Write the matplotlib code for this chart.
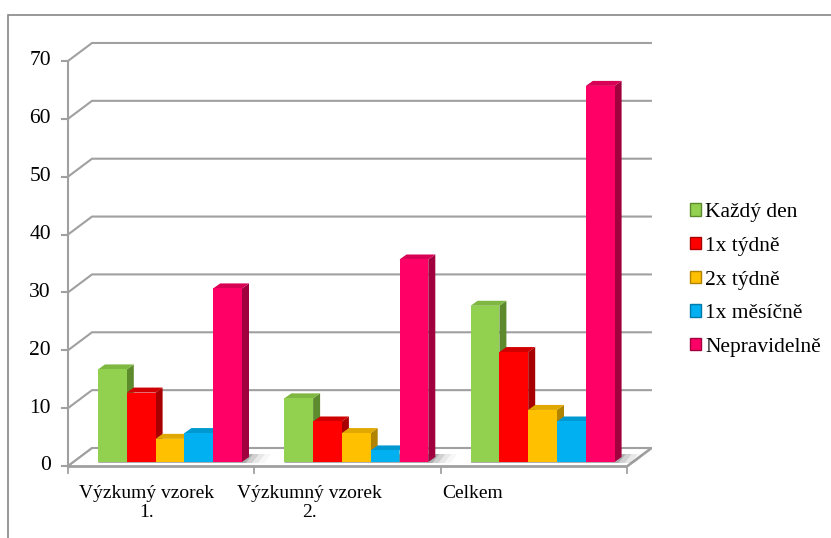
import matplotlib.pyplot as plt
from matplotlib.patches import Polygon, Rectangle, Patch

# data
categories = ["Výzkumý vzorek\n1.", "Výzkumný vzorek\n2.", "Celkem"]
series = ["Každý den", "1x týdně", "2x týdně", "1x měsíčně", "Nepravidelně"]
kazdy_den = [16, 11, 27]
tydne_1x = [12, 7, 19]
tydne_2x = [4, 5, 9]
mesicne_1x = [5, 2, 7]
nepravidelne = [30, 35, 65]
yticks = [0, 10, 20, 30, 40, 50, 60, 70]

values = [kazdy_den, tydne_1x, tydne_2x, mesicne_1x, nepravidelne]
front = ["#92D050", "#FF0000", "#FFC000", "#00B0F0", "#FF0066"]
top = ["#7FB840", "#D00000", "#E0A800", "#0098D0", "#D80055"]
side = ["#5E8A2E", "#A80000", "#B08400", "#0078A8", "#A0003E"]

plt.rcParams["font.family"] = ["Liberation Serif", "DejaVu Serif"]
FS_CAT, FS_TICK, FS_LEG = 14, 15.5, 15.5

# pixel geometry of the front plane -> data units
W, H = 831, 538
X0, CAT = 68, 186.3     # pixel of category 0, pixels per category
Y0, VAL = 466, 5.786    # pixel of value 0, pixels per value unit


def dx(p):
    return p / CAT


def dy(p):
    return p / VAL


DX, DY = dx(24), dy(18)          # depth of the wall
BDX, BDY = dx(7), dy(5)          # depth of a bar
B0X, B0Y = dx(5), dy(4)          # bar offset into the depth
GROUP_OFF, BAR_W = dx(25), dx(28.8)
SLAB = dy(1)
GRID = "#A0A0A0"

fig = plt.figure(figsize=(W / 100, H / 100), dpi=100)
ax = fig.add_axes([0, 0, 1, 1])
ax.set_xlim(-dx(X0), dx(W - X0))
ax.set_ylim(-dy(H - Y0), dy(Y0))
ax.axis("off")

# outer chart border
ax.add_patch(Rectangle((dx(8 - X0), -dy(H + 20 - Y0)), dx(W + 40), dy(Y0 - 15) + dy(H + 20 - Y0),
                       fill=False, ec="#868686", lw=1.2, zorder=0))

# floor
ax.add_patch(Polygon([(0, 0), (3, 0), (3 + DX, DY), (DX, DY)], closed=True,
                     fc="white", ec=GRID, lw=1.3, zorder=1))
ax.plot([0, 3, 3 + DX], [-SLAB, -SLAB, DY - SLAB], color=GRID, lw=1.3, zorder=1)

# gridlines on back wall + diagonals from the axis
for v in yticks:
    ax.plot([0, DX, 3 + DX], [v, v + DY, v + DY], color=GRID, lw=1.5, zorder=1)
    ax.plot([-dx(6), 0], [v, v], color=GRID, lw=1.5, zorder=1)
    ax.text(-dx(17), v, str(v), ha="right", va="center", fontsize=FS_TICK)
ax.plot([0, 0], [-SLAB, yticks[-1]], color=GRID, lw=1.5, zorder=1)

# category ticks and labels
for i in range(len(categories) + 1):
    ax.plot([i, i], [-SLAB, -SLAB - dy(6)], color=GRID, lw=1.3, zorder=1)
for i, cat in enumerate(categories):
    ax.text(0.42 + 0.877 * i, -dy(19), cat, ha="center", va="top", fontsize=FS_CAT,
            linespacing=1.12)

# soft shadows on the floor
for g in range(len(categories)):
    x0 = g + GROUP_OFF + B0X
    x1 = x0 + 5 * BAR_W
    for k, a in enumerate([0.16, 0.10, 0.06, 0.03]):
        ext = dx(4 + 6 * k)
        ax.add_patch(Polygon([(x0, B0Y - dy(1)), (x1 + ext, B0Y - dy(1)),
                              (x1 + BDX + ext, B0Y + BDY + dy(3)), (x0 + BDX, B0Y + BDY + dy(3))],
                             closed=True, fc="black", alpha=a, ec="none", zorder=2))

# 3d bars
z = 3
for g in range(len(categories)):
    for s in range(len(series)):
        v = values[s][g]
        x0 = g + GROUP_OFF + B0X + s * BAR_W
        x1 = x0 + BAR_W
        b, t = B0Y, B0Y + v
        ax.add_patch(Polygon([(x1, b), (x1 + BDX, b + BDY), (x1 + BDX, t + BDY), (x1, t)],
                             closed=True, fc=side[s], ec="none", zorder=z))
        ax.add_patch(Polygon([(x0, t), (x1, t), (x1 + BDX, t + BDY), (x0 + BDX, t + BDY)],
                             closed=True, fc=top[s], ec="none", zorder=z))
        ax.add_patch(Rectangle((x0, b), BAR_W, v, fc=front[s], ec="none", zorder=z + 1))
        z += 2

# legend
handles = [Patch(fc=front[s], ec=side[s], lw=1) for s in range(len(series))]
fig.legend(handles, series, loc="center left", bbox_to_anchor=(690 / W, 1 - 280 / H),
           frameon=False, fontsize=FS_LEG, handlelength=0.5, handleheight=0.5,
           handletextpad=0.2, labelspacing=0.68, borderpad=0, borderaxespad=0)

fig.savefig("out.png", dpi=100)
